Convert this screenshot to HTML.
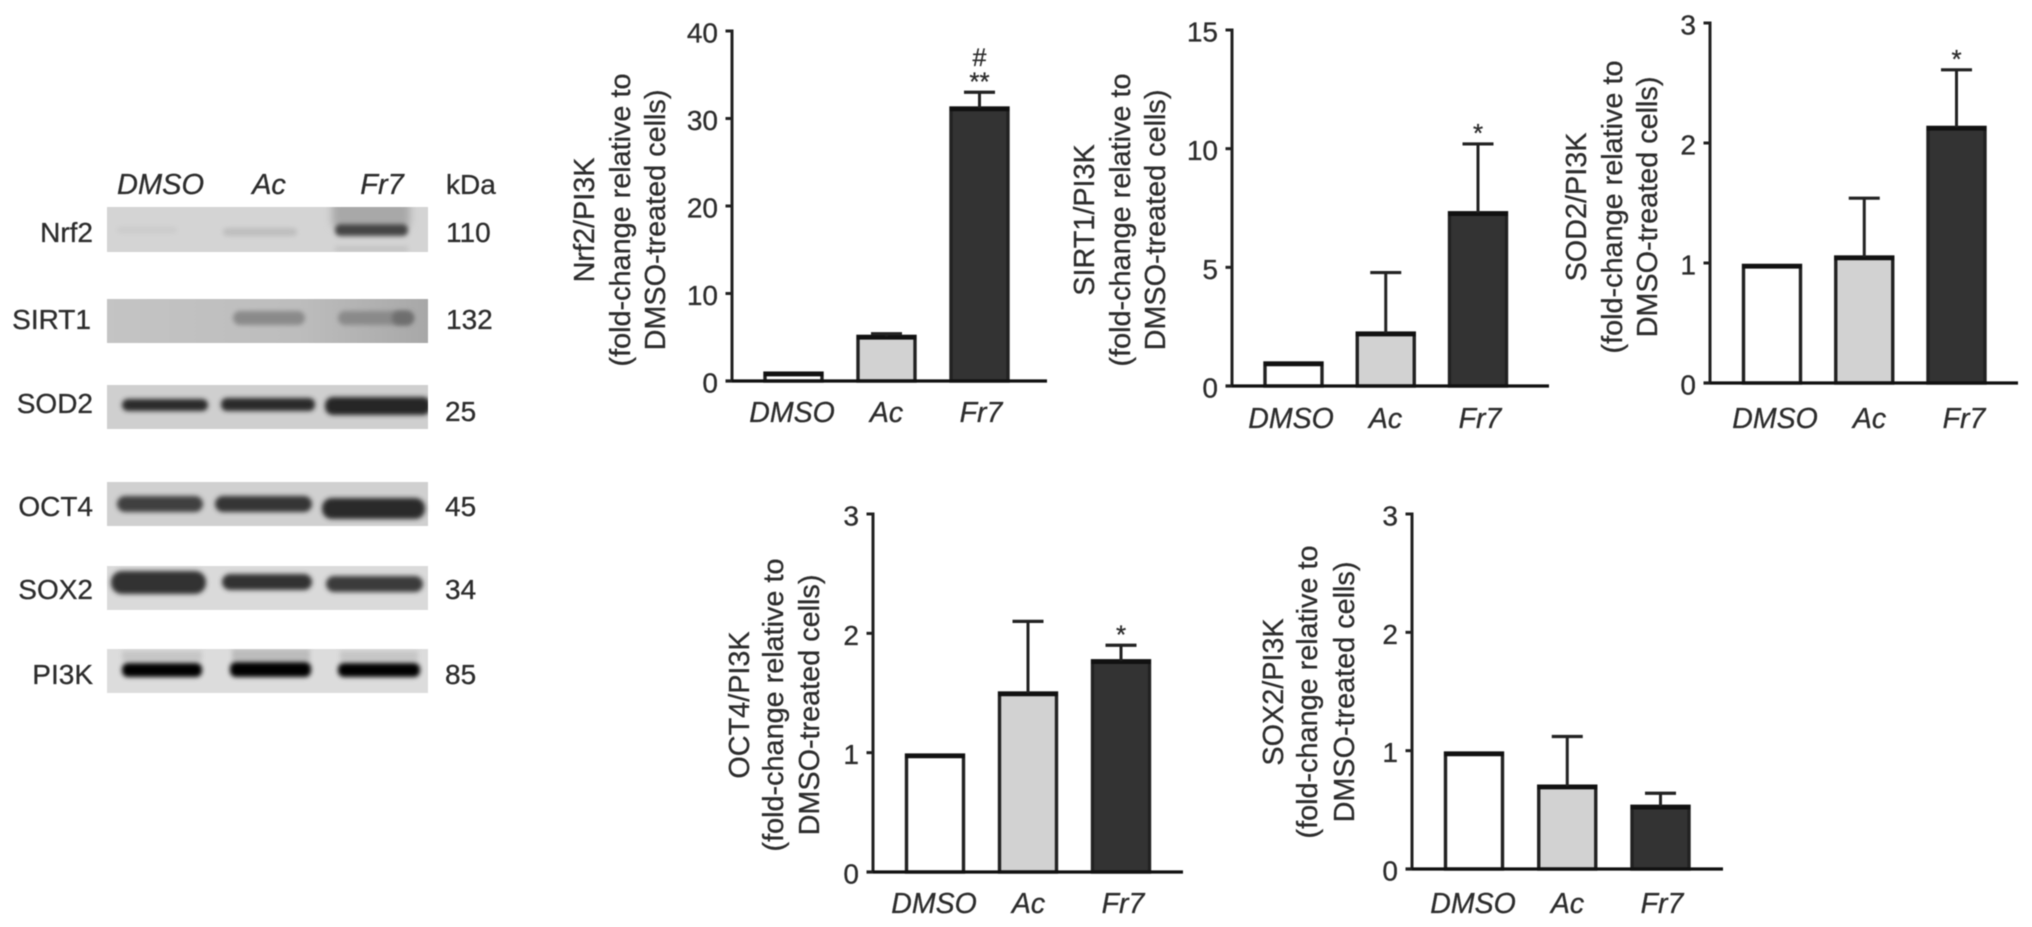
<!DOCTYPE html>
<html lang="en">
<head>
<meta charset="utf-8">
<title>Western blots and PI3K-normalised fold-change bar charts</title>
<style>
html,body{margin:0;padding:0;background:#fff;width:2032px;height:927px;overflow:hidden}
svg{display:block;position:absolute;left:0;top:0}
text{font-family:"Liberation Sans",Arial,sans-serif;fill:#2c2c2c;stroke:#2c2c2c;stroke-width:0.3px}
#soft{filter:blur(0.55px)}
</style>
</head>
<body>
<svg id="figure" width="2032" height="927" viewBox="0 0 2032 927" xmlns="http://www.w3.org/2000/svg">
<defs>
<filter id="b2" x="-20%" y="-80%" width="140%" height="260%"><feGaussianBlur stdDeviation="2.3"/></filter>
<filter id="b4" x="-20%" y="-120%" width="140%" height="340%"><feGaussianBlur stdDeviation="4"/></filter>
<clipPath id="clip-nrf2"><rect x="107" y="207" width="321" height="45"/></clipPath>
<clipPath id="clip-sod2"><rect x="107" y="385" width="321" height="44"/></clipPath>
<clipPath id="clip-pi3k"><rect x="107" y="649" width="321" height="44"/></clipPath>
<linearGradient id="sirtBg" x1="0" x2="1" y1="0" y2="0"><stop offset="0" stop-color="#c4c4c4"/><stop offset="0.6" stop-color="#bdbdbd"/><stop offset="1" stop-color="#a8a8a8"/></linearGradient>
</defs>
<g id="soft">
<g id="blot">
<g font-size="29" font-style="italic">
<text x="160.5" y="194" text-anchor="middle" font-style="italic">DMSO</text>
<text x="269" y="194" text-anchor="middle" font-style="italic">Ac</text>
<text x="382" y="194" text-anchor="middle" font-style="italic">Fr7</text>
</g>
<text x="446" y="194" font-size="28" font-style="normal">kDa</text>

<g clip-path="url(#clip-nrf2)">
<rect x="107" y="207" width="321" height="45" fill="#d4d4d4"/>
<rect x="117" y="227" width="60" height="6" rx="3" fill="#cbcbcb" filter="url(#b2)"/>
<rect x="223" y="228" width="74" height="8" rx="4" fill="#bebebe" filter="url(#b2)"/>
<rect x="332" y="200" width="78" height="26" fill="#a8a8a8" filter="url(#b4)"/>
<rect x="335" y="224" width="73" height="12" rx="5" fill="#454545" filter="url(#b2)"/>
<rect x="335" y="246" width="73" height="6" fill="#c4c4c4" filter="url(#b2)"/>
</g>
<g>
<rect x="107" y="299" width="321" height="44" fill="url(#sirtBg)"/>
<rect x="233" y="311" width="72" height="14" rx="7" fill="#8a8a8a" filter="url(#b2)"/>
<rect x="338" y="311" width="75" height="14" rx="7" fill="#8a8a8a" filter="url(#b2)"/>
<rect x="392" y="311" width="22" height="14" rx="7" fill="#6e6e6e" filter="url(#b2)"/>
</g>
<g clip-path="url(#clip-sod2)">
<rect x="107" y="385" width="321" height="44" fill="#cfcfcf"/>
<rect x="122" y="399" width="86" height="12" rx="6" fill="#2c2c2c" filter="url(#b2)"/>
<rect x="221" y="398" width="94" height="13" rx="6" fill="#2c2c2c" filter="url(#b2)"/>
<rect x="325" y="397" width="106" height="18" rx="8" fill="#262626" filter="url(#b2)"/>
</g>
<g>
<rect x="107" y="482" width="321" height="44" fill="#d0d0d0"/>
<rect x="117" y="496" width="86" height="16" rx="8" fill="#404040" filter="url(#b2)"/>
<rect x="215" y="496" width="97" height="16" rx="8" fill="#343434" filter="url(#b2)"/>
<rect x="322" y="498" width="103" height="21" rx="10" fill="#2c2c2c" filter="url(#b2)"/>
</g>
<g>
<rect x="107" y="566" width="321" height="44" fill="#dadada"/>
<rect x="111" y="571" width="95" height="23" rx="11" fill="#303030" filter="url(#b2)"/>
<rect x="222" y="574" width="90" height="16" rx="8" fill="#323232" filter="url(#b2)"/>
<rect x="326" y="576" width="97" height="16" rx="8" fill="#3a3a3a" filter="url(#b2)"/>
</g>
<g clip-path="url(#clip-pi3k)">
<rect x="107" y="649" width="321" height="44" fill="#dcdcdc"/>
<rect x="122" y="651" width="80" height="10" fill="#c6c6c6" filter="url(#b2)"/>
<rect x="232" y="649" width="78" height="12" fill="#bcbcbc" filter="url(#b2)"/>
<rect x="340" y="651" width="78" height="10" fill="#c6c6c6" filter="url(#b2)"/>
<rect x="122" y="663" width="80" height="14" rx="6" fill="#040404" filter="url(#b2)"/>
<rect x="230" y="662" width="81" height="15" rx="6" fill="#040404" filter="url(#b2)"/>
<rect x="338" y="663" width="82" height="14" rx="6" fill="#040404" filter="url(#b2)"/>
</g>

<g font-size="28" text-anchor="end">
<text x="93" y="242">Nrf2</text>
<text x="91" y="329">SIRT1</text>
<text x="93" y="413">SOD2</text>
<text x="93" y="516">OCT4</text>
<text x="93" y="599">SOX2</text>
<text x="93" y="684">PI3K</text>
</g>
<g font-size="28">
<text x="446" y="242">110</text>
<text x="446" y="329">132</text>
<text x="445" y="421">25</text>
<text x="445" y="516">45</text>
<text x="445" y="599">34</text>
<text x="445" y="684">85</text>
</g>
</g>
<g id="charts"></g>
</g>
</svg>
<script>
// ---- shared data ----
const categories = ['DMSO', 'Ac', 'Fr7'];
const barFills = ['#ffffff', '#d2d2d2', '#333333'];

// ---- Nrf2 ----
const nrf2Values = [0.9, 5.1, 31.2];
const nrf2Errors = [0, 0.3, 1.8];
const nrf2Ticks = [0, 10, 20, 30, 40];
const nrf2Marks = ['', '', '**'];
const nrf2Title = ['Nrf2/PI3K', '(fold-change relative to', 'DMSO-treated cells)'];

// ---- SIRT1 ----
const sirt1Values = [0.97, 2.23, 7.3];
const sirt1Errors = [0, 2.55, 2.9];
const sirt1Ticks = [0, 5, 10, 15];
const sirt1Marks = ['', '', '*'];
const sirt1Title = ['SIRT1/PI3K', '(fold-change relative to', 'DMSO-treated cells)'];

// ---- SOD2 ----
const sod2Values = [0.98, 1.05, 2.13];
const sod2Errors = [0, 0.49, 0.48];
const sod2Ticks = [0, 1, 2, 3];
const sod2Marks = ['', '', '*'];
const sod2Title = ['SOD2/PI3K', '(fold-change relative to', 'DMSO-treated cells)'];

// ---- OCT4 ----
const oct4Values = [0.98, 1.5, 1.77];
const oct4Errors = [0, 0.6, 0.13];
const oct4Ticks = [0, 1, 2, 3];
const oct4Marks = ['', '', '*'];
const oct4Title = ['OCT4/PI3K', '(fold-change relative to', 'DMSO-treated cells)'];

// ---- SOX2 ----
const sox2Values = [0.98, 0.7, 0.53];
const sox2Errors = [0, 0.42, 0.11];
const sox2Ticks = [0, 1, 2, 3];
const sox2Marks = ['', '', ''];
const sox2Title = ['SOX2/PI3K', '(fold-change relative to', 'DMSO-treated cells)'];

const SVG_NS = 'http://www.w3.org/2000/svg';
const chartsRoot = document.getElementById('charts');

function make(tag, parent, attrs, txt) {
  const el = document.createElementNS(SVG_NS, tag);
  for (const k in attrs) el.setAttribute(k, attrs[k]);
  if (txt !== undefined) el.textContent = txt;
  parent.appendChild(el);
  return el;
}

function drawChart(key, values, errors, ticks, marks, title, frame) {
  const group = make('g', chartsRoot, {});
  
  

  const maxTick = ticks[ticks.length - 1];
  const yScale = v => frame.zero - (v / maxTick) * (frame.zero - frame.top);
  const xScale = i => frame.first + i * frame.step;
  const labelScale = i => frame.labelFirst + i * 94.5;
  const ink = '#222222';

  // bars
  values.forEach((v, i) => {
    const topY = yScale(v);
    const cx = xScale(i);
    const bar = make('rect', group, {
      x: cx - 28.5, y: topY, width: 57, height: frame.zero - topY,
      fill: barFills[i], stroke: ink, 'stroke-width': 3.4
    });
    
    

    const barCap = make('line', group, {
      x1: cx - 30, x2: cx + 30, y1: topY + 1, y2: topY + 1,
      stroke: '#111111', 'stroke-width': 4.5
    });
    
    

    if (errors[i] > 0) {
      const errY = yScale(v + errors[i]);
      const stem = make('line', group, {
        x1: cx, x2: cx, y1: topY, y2: errY, stroke: ink, 'stroke-width': 3
      });
      
      
      const cap = make('line', group, {
        x1: cx - 15.5, x2: cx + 15.5, y1: errY, y2: errY, stroke: ink, 'stroke-width': 3.2
      });
      
      
    }

    if (marks[i]) {
      const capY = yScale(v + errors[i]);
      const star = make('text', group, {
        x: cx, y: capY - 2, 'font-size': 26, 'text-anchor': 'middle'
      }, marks[i]);
      
      
    }

    const catLabel = make('text', group, {
      x: labelScale(i), y: frame.labelY, 'font-size': 28.5,
      'font-style': 'italic', 'text-anchor': 'middle'
    }, categories[i]);
    
    
  });

  // axes
  const yAxis = make('line', group, {
    x1: frame.axis, x2: frame.axis, y1: frame.top - 1.5, y2: frame.zero, stroke: ink, 'stroke-width': 3
  });
  
  

  const xAxis = make('line', group, {
    x1: frame.axis - 6.5, x2: frame.end, y1: frame.zero, y2: frame.zero, stroke: '#111111', 'stroke-width': 3.2
  });
  
  

  // ticks
  ticks.forEach(t => {
    const ty = yScale(t);
    const tick = make('line', group, {
      x1: frame.axis - 6.5, x2: frame.axis, y1: ty, y2: ty, stroke: ink, 'stroke-width': 3
    });
    
    
    const tickLabel = make('text', group, {
      x: frame.axis - 14, y: ty + 11.5, 'font-size': 28, 'text-anchor': 'end'
    }, String(t));
    
    
  });

  // rotated y title
  title.forEach((line, i) => {
    const bx = frame.titleX[i];
    const label = make('text', group, {
      x: 0, y: 0, 'font-size': 28.8, 'text-anchor': 'middle',
      transform: 'translate(' + bx + ',' + frame.titleY + ') rotate(-90)'
    }, line);
    
    
  });
}

drawChart('nrf2', nrf2Values, nrf2Errors, nrf2Ticks, nrf2Marks, nrf2Title, {
  axis: 732, end: 1047, top: 31, zero: 381, first: 793.5, step: 93,
  labelFirst: 792, labelY: 422, titleX: [594, 630, 665], titleY: 220
});
drawChart('sirt1', sirt1Values, sirt1Errors, sirt1Ticks, sirt1Marks, sirt1Title, {
  axis: 1232, end: 1549, top: 30, zero: 386, first: 1293.5, step: 92.25,
  labelFirst: 1291, labelY: 428, titleX: [1094, 1130, 1165], titleY: 220
});
drawChart('sod2', sod2Values, sod2Errors, sod2Ticks, sod2Marks, sod2Title, {
  axis: 1710, end: 2018, top: 23, zero: 383, first: 1772, step: 92.25,
  labelFirst: 1775, labelY: 428, titleX: [1586, 1622, 1657], titleY: 207
});
drawChart('oct4', oct4Values, oct4Errors, oct4Ticks, oct4Marks, oct4Title, {
  axis: 873, end: 1183, top: 514, zero: 872, first: 935, step: 93,
  labelFirst: 934, labelY: 913, titleX: [749, 783, 819], titleY: 705
});
drawChart('sox2', sox2Values, sox2Errors, sox2Ticks, sox2Marks, sox2Title, {
  axis: 1412, end: 1723, top: 514, zero: 869, first: 1474, step: 93.25,
  labelFirst: 1473, labelY: 913, titleX: [1283, 1317, 1354], titleY: 692
});

// extra "#" marker above the Nrf2 Fr7 stars
const hashMark = make('text', chartsRoot, {
  x: 979.5, y: 66, 'font-size': 25, 'text-anchor': 'middle'
}, '#');


</script>
</body>
</html>
